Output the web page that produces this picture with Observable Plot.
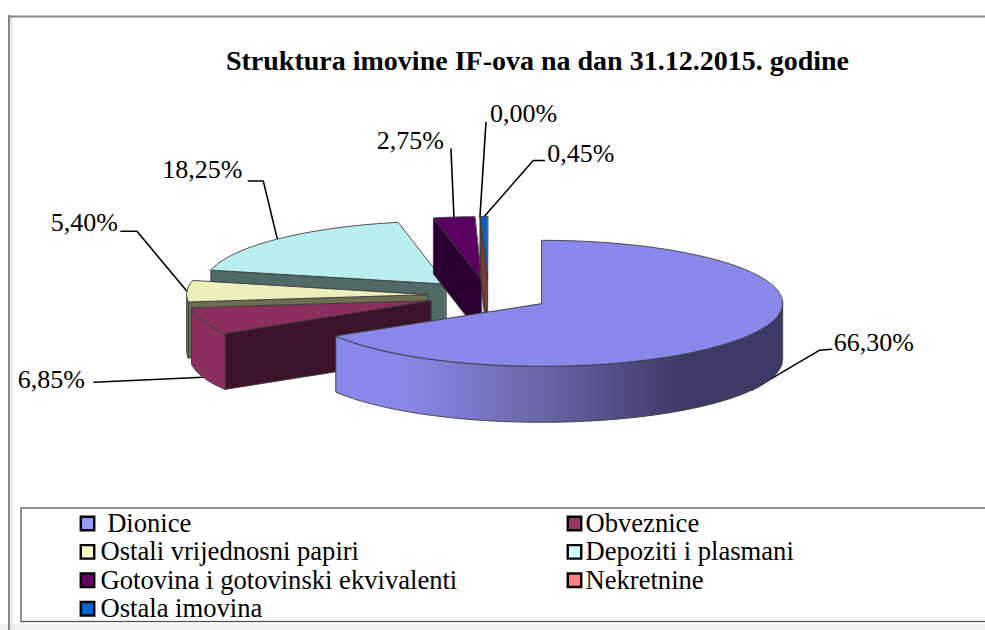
<!DOCTYPE html>
<html>
<head>
<meta charset="utf-8">
<script src="https://cdn.jsdelivr.net/npm/d3@7"></script>
<script src="https://cdn.jsdelivr.net/npm/@observablehq/plot@0.6"></script>
<style>
html,body{margin:0;padding:0;background:#fff;overflow:hidden}
svg{display:block}
</style>
</head>
<body>
<div id="chart"></div>
<script>
// --- data ---
const titleText = "Struktura imovine IF-ova na dan 31.12.2015. godine";
const categories = ["Dionice","Obveznice","Ostali vrijednosni papiri","Depoziti i plasmani","Gotovina i gotovinski ekvivalenti","Nekretnine","Ostala imovina"];
const shares = [66.30, 6.85, 5.40, 18.25, 2.75, 0.00, 0.45];
const shareLabels = ["66,30%","6,85%","5,40%","18,25%","2,75%","0,00%","0,45%"];
const legendColors = ["#9999ff","#993366","#ffffcc","#ccffff","#660066","#ff8080","#0066cc"];
const topColors = ["#8a88ea","#8a2f5e","#eeeebb","#b9eeee","#5a005f","#c86060","#0a62c0"];
const cutColors = ["#3c3a66","#3c142a","#6e6e55","#506a68","#2a0030","#7d3a38","#7d3a38"];
const outerColors = ["url(#dionice-side)","#8a2f5e","#75755a","#506a68","#2a0030","#7d3a38","#7d3a38"];

// --- layout ---
const W = 985, H = 630;
const pie = {cx: 488, cy: 295, rx: 241, ry: 63, depth: 56, explode: 0.253};
// leader: [elbow dx, elbow dy, end dx, end dy] from slice's edge; label offset from leader end
const leaders = [
  {elbow:[68,-40], end:[80,-41], text:[2,-7], anchor:"start"},
  {elbow:[-109,5], end:[-109,5], text:[-9,-3], anchor:"end"},
  {elbow:[-50,-60], end:[-66,-60], text:[-3,-9], anchor:"end"},
  {elbow:[-14,-58], end:[-29,-58], text:[-6,-11], anchor:"end"},
  {elbow:[-3,-68], end:[-3,-68], text:[-7,-8], anchor:"end"},
  {elbow:[6,-94], end:[6,-94], text:[4,-9], anchor:"start"},
  {elbow:[49,-56], end:[60,-56], text:[3,-7], anchor:"start"}
];
const drawOrder = [3,4,5,6,2,1,0];

// --- geometry, derived from the shares ---
const total = d3.sum(shares);
const toRad = Math.PI/180;
let acc = 0;
const slices = shares.map((v,i)=>{
  const a0 = acc/total*360; acc += v; const a1 = acc/total*360;
  const mid = (a0+a1)/2;
  const ox = pie.cx + pie.explode*pie.rx*Math.sin(mid*toRad);
  const oy = pie.cy - pie.explode*pie.ry*Math.cos(mid*toRad);
  return {i,a0,a1,mid,ox,oy};
});
const rim = (s,a)=>({x:s.ox+pie.rx*Math.sin(a*toRad), y:s.oy-pie.ry*Math.cos(a*toRad)});
const arcPts = (s,a0,a1)=>{const n=Math.max(1,Math.ceil(a1-a0));return d3.range(n+1).map(k=>rim(s,a0+(a1-a0)*k/n));};
const down = p=>({x:p.x,y:p.y+pie.depth});
const O = "#3a3a3a";
const poly = (pts,fill,stroke=O)=>Plot.line(pts,{x:"x",y:"y",fill,stroke,strokeWidth:0.9,curve:"linear-closed"});

const sliceMarks = [];
for (const idx of drawOrder){
  const s = slices[idx];
  const apex = {x:s.ox,y:s.oy};
  // outer wall: the part of the arc that faces the viewer
  const lo = Math.max(s.a0,90), hi = Math.min(s.a1,270);
  // start cut face
  if (Math.sin(s.a0*toRad) < -1e-6){
    const r = rim(s,s.a0);
    sliceMarks.push(poly([apex,r,down(r),down(apex)],cutColors[idx]));
  }
  if (hi>lo){
    const arc = arcPts(s,lo,hi);
    sliceMarks.push(poly([...arc,...arc.slice().reverse().map(down)],outerColors[idx]));
  }
  if (s.a1>s.a0) sliceMarks.push(poly([apex,...arcPts(s,s.a0,s.a1)],topColors[idx]));
}

// --- leaders and labels ---
const anchors = slices.map(s=>{
  const p = rim(s,s.mid);
  return (s.mid>90 && s.mid<270) ? down(p) : p;
});
const leaderMarks = leaders.map((l,i)=>{
  const a = anchors[i];
  return Plot.line([a,{x:a.x+l.elbow[0],y:a.y+l.elbow[1]},{x:a.x+l.end[0],y:a.y+l.end[1]}],{x:"x",y:"y",stroke:"#000",strokeWidth:1.6});
});
const labelRows = leaders.map((l,i)=>({
  x:anchors[i].x+l.end[0]+l.text[0], y:anchors[i].y+l.end[1]+l.text[1], label:shareLabels[i], anchor:l.anchor
}));
const serif = "'Liberation Serif','Times New Roman',serif";

// --- legend ---
const legendRows = categories.map((c,i)=>({
  name:(i===0?"\u00a0":"")+c, cat:c,
  sx:(i%2?574:87), tx:(i%2?585:100),
  y:523+Math.floor(i/2)*28.4
}));

// --- gradient for the front wall ---
const defs = ()=>{
  const d = d3.create("svg:defs");
  const g = d.append("linearGradient").attr("id","dionice-side").attr("x1",0).attr("x2",1).attr("y1",0).attr("y2",0);
  [[0,"#8a88ea"],[0.14,"#8a88ea"],[0.42,"#6d6cb0"],[0.78,"#3c3a66"],[1,"#3c3a66"]].forEach(([o,c])=>g.append("stop").attr("offset",o).attr("stop-color",c));
  return d.node();
};

const plot = Plot.plot({
  width:W, height:H, margin:0,
  x:{domain:[0,W],range:[0,W],axis:null},
  y:{domain:[0,H],range:[0,H],axis:null},
  color:{domain:categories,range:legendColors},
  style:{background:"#fff",fontFamily:serif},
  marks:[
    defs,
    // page band and chart frame
    Plot.rect([{}],{x1:0,x2:W,y1:624,y2:H,fill:"#f0f0f0"}),
    Plot.ruleX([11],{y1:17,y2:H,stroke:"#e4e4e4",strokeWidth:2}),
    Plot.ruleX([8.5],{y1:15,y2:H,stroke:"#888",strokeWidth:2}),
    Plot.ruleY([16],{x1:8,x2:W,stroke:"#888",strokeWidth:2}),
    // title
    Plot.text([titleText],{x:537,y:61,text:d=>d,fontSize:28,fontWeight:"bold",fill:"#000"}),
    ...leaderMarks,
    ...sliceMarks,
    Plot.text(labelRows,{x:"x",y:"y",text:"label",textAnchor:"start",fontSize:26,fill:"#000",
      filter:d=>d.anchor==="start"}),
    Plot.text(labelRows,{x:"x",y:"y",text:"label",textAnchor:"end",fontSize:26,fill:"#000",
      filter:d=>d.anchor==="end"}),
    // legend box
    Plot.rect([{}],{x1:21,x2:W+5,y1:508,y2:621.5,fill:"#fff",stroke:"#555",strokeWidth:1.3}),
    Plot.dot(legendRows,{x:"sx",y:"y",symbol:"square",r:7.6,fill:"cat",stroke:"#000",strokeWidth:2.4}),
    Plot.text(legendRows,{x:"tx",y:"y",text:"name",textAnchor:"start",fontSize:26.6,fill:"#000"})
  ]
});
document.getElementById("chart").append(plot);
</script>
</body>
</html>
